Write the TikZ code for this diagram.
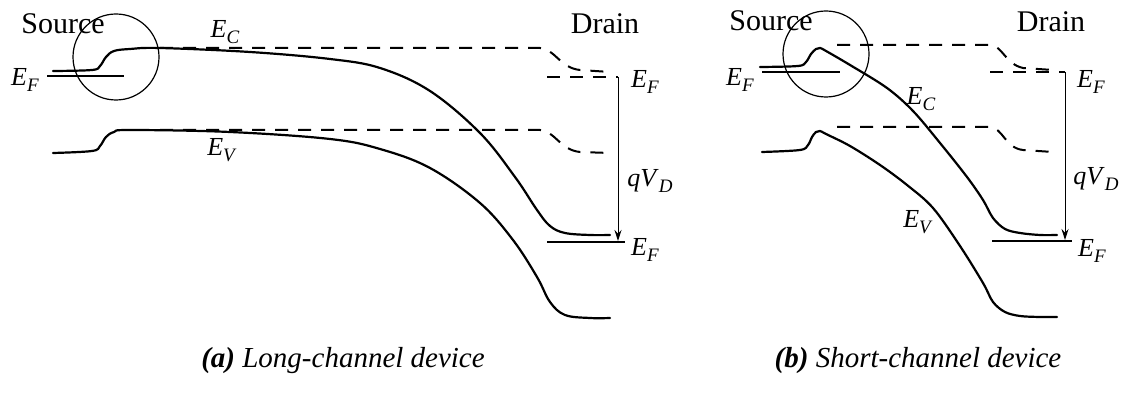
\documentclass[tikz,border=0pt]{standalone}
\usepackage{fontspec}
\setmainfont{Liberation Serif}
\usepackage{tikz}
\usetikzlibrary{arrows.meta}
\newcommand{\lvl}[2]{\textit{#1}\raisebox{-0.5ex}{\fontsize{9.5}{9.5}\selectfont\textit{#2}}}
\tikzset{
    band/.style={line width=1.1pt, line join=round, line cap=round},
    shiftband/.style={line width=1pt, dash pattern=on 6.5pt off 5pt},
    fermi/.style={line width=0.7pt},
    zoomring/.style={circle, draw, line width=0.6pt, minimum size=43pt, inner sep=0pt},
    biasarrow/.style={-{Stealth[length=5.5pt, width=3.5pt]}, line width=0.5pt},
    lbl/.style={font=\fontsize{13}{13}\selectfont, inner sep=0pt},
    region/.style={font=\fontsize{15}{15}\selectfont, inner sep=0pt},
    caption/.style={font=\fontsize{14.5}{15}\selectfont\itshape, inner sep=0pt},
}

\begin{document}
\begin{tikzpicture}[x=0.5pt, y=-0.5pt]

    \useasboundingbox (0,0) rectangle (1127,394);

    % (a) Long-channel device
    \draw[band] plot[smooth, tension=0.6] coordinates {(53,71) (92,70) (100,66) (106,57) (114,51) (130,49) (160,48) (250,52) (330,59) (380,68) (430,91) (480,133) (515,177) (537,210) (550,226) (565,233) (590,235) (610,235)};
    \draw[band] plot[smooth, tension=0.6] coordinates {(53,153) (92,151) (100,146) (106,137) (114,132) (130,130) (230,132) (330,139) (380,149) (430,168) (480,203) (513,240) (537,277) (550,302) (565,315) (590,318) (610,318)};
    \draw[shiftband] (160,48) -- (540,48) .. controls (555,49) and (560,68) .. (580,70) -- (610,72);
    \draw[shiftband] (160,130) -- (540,130) .. controls (555,131) and (560,150) .. (580,152) -- (610,153);
    \draw[shiftband] (547,77) -- (618,77);
    \draw[fermi] (47,76) -- (124,76);
    \draw[fermi] (547,242) -- (625,242);
    \node[zoomring] (a-ring) at (116,57) {};

    \coordinate (a-top) at (618,77);
    \coordinate (a-bot) at (618,241);
    \draw[biasarrow] (a-top) -- (a-bot);

    \node[region] (a-source) at (63,24) {Source};
    \node[region] (a-drain) at (605,24) {Drain};
    \node[lbl] (a-ec) at (225,32) {\lvl{E}{C}};
    \node[lbl] (a-ev) at (222,150) {\lvl{E}{V}};
    \node[lbl] (a-efs) at (25,80) {\lvl{E}{F}};
    \node[lbl] (a-efd) at (645,82) {\lvl{E}{F}};
    \node[lbl] (a-efb) at (645,250) {\lvl{E}{F}};
    \node[lbl] (a-qvd) at (650,181) {\lvl{qV}{D}};

    % (b) Short-channel device
    \draw[band] plot[smooth, tension=0.55] coordinates {(760,67) (798,66) (806,62) (811,54) (816,49) (820,48) (826,51) (850,65) (887,88) (913,111) (940,143) (967,177) (983,200) (993,218) (1005,229) (1020,233) (1040,235) (1057,235)};
    \draw[band] plot[smooth, tension=0.55] coordinates {(762,152) (800,150) (808,145) (812,137) (816,132) (820,131) (826,134) (850,146) (880,165) (907,185) (933,208) (960,246) (983,283) (993,302) (1005,312) (1020,316) (1040,317) (1057,317)};
    \draw[shiftband] (837,45) -- (990,45) .. controls (1003,46) and (1005,64) .. (1023,68) -- (1053,70);
    \draw[shiftband] (837,127) -- (990,127) .. controls (1003,128) and (1005,148) .. (1023,150) -- (1053,152);
    \draw[shiftband] (990,72) -- (1065,72);
    \draw[fermi] (762,72) -- (840,72);
    \draw[fermi] (992,241) -- (1072,241);
    \node[zoomring] (b-ring) at (826,54) {};

    \coordinate (b-top) at (1065,72);
    \coordinate (b-bot) at (1065,240);
    \draw[biasarrow] (b-top) -- (b-bot);

    \node[region] (b-source) at (771,21) {Source};
    \node[region] (b-drain) at (1051,22) {Drain};
    \node[lbl] (b-ec) at (921,99) {\lvl{E}{C}};
    \node[lbl] (b-ev) at (918,222) {\lvl{E}{V}};
    \node[lbl] (b-efs) at (740,80) {\lvl{E}{F}};
    \node[lbl] (b-efd) at (1091,82) {\lvl{E}{F}};
    \node[lbl] (b-efb) at (1092,251) {\lvl{E}{F}};
    \node[lbl] (b-qvd) at (1096,179) {\lvl{qV}{D}};

    % Captions
    \node[caption] (a-cap) at (343,361) {\textbf{(a)} Long-channel device};
    \node[caption] (b-cap) at (918,361) {\textbf{(b)} Short-channel device};

\end{tikzpicture}
\end{document}
